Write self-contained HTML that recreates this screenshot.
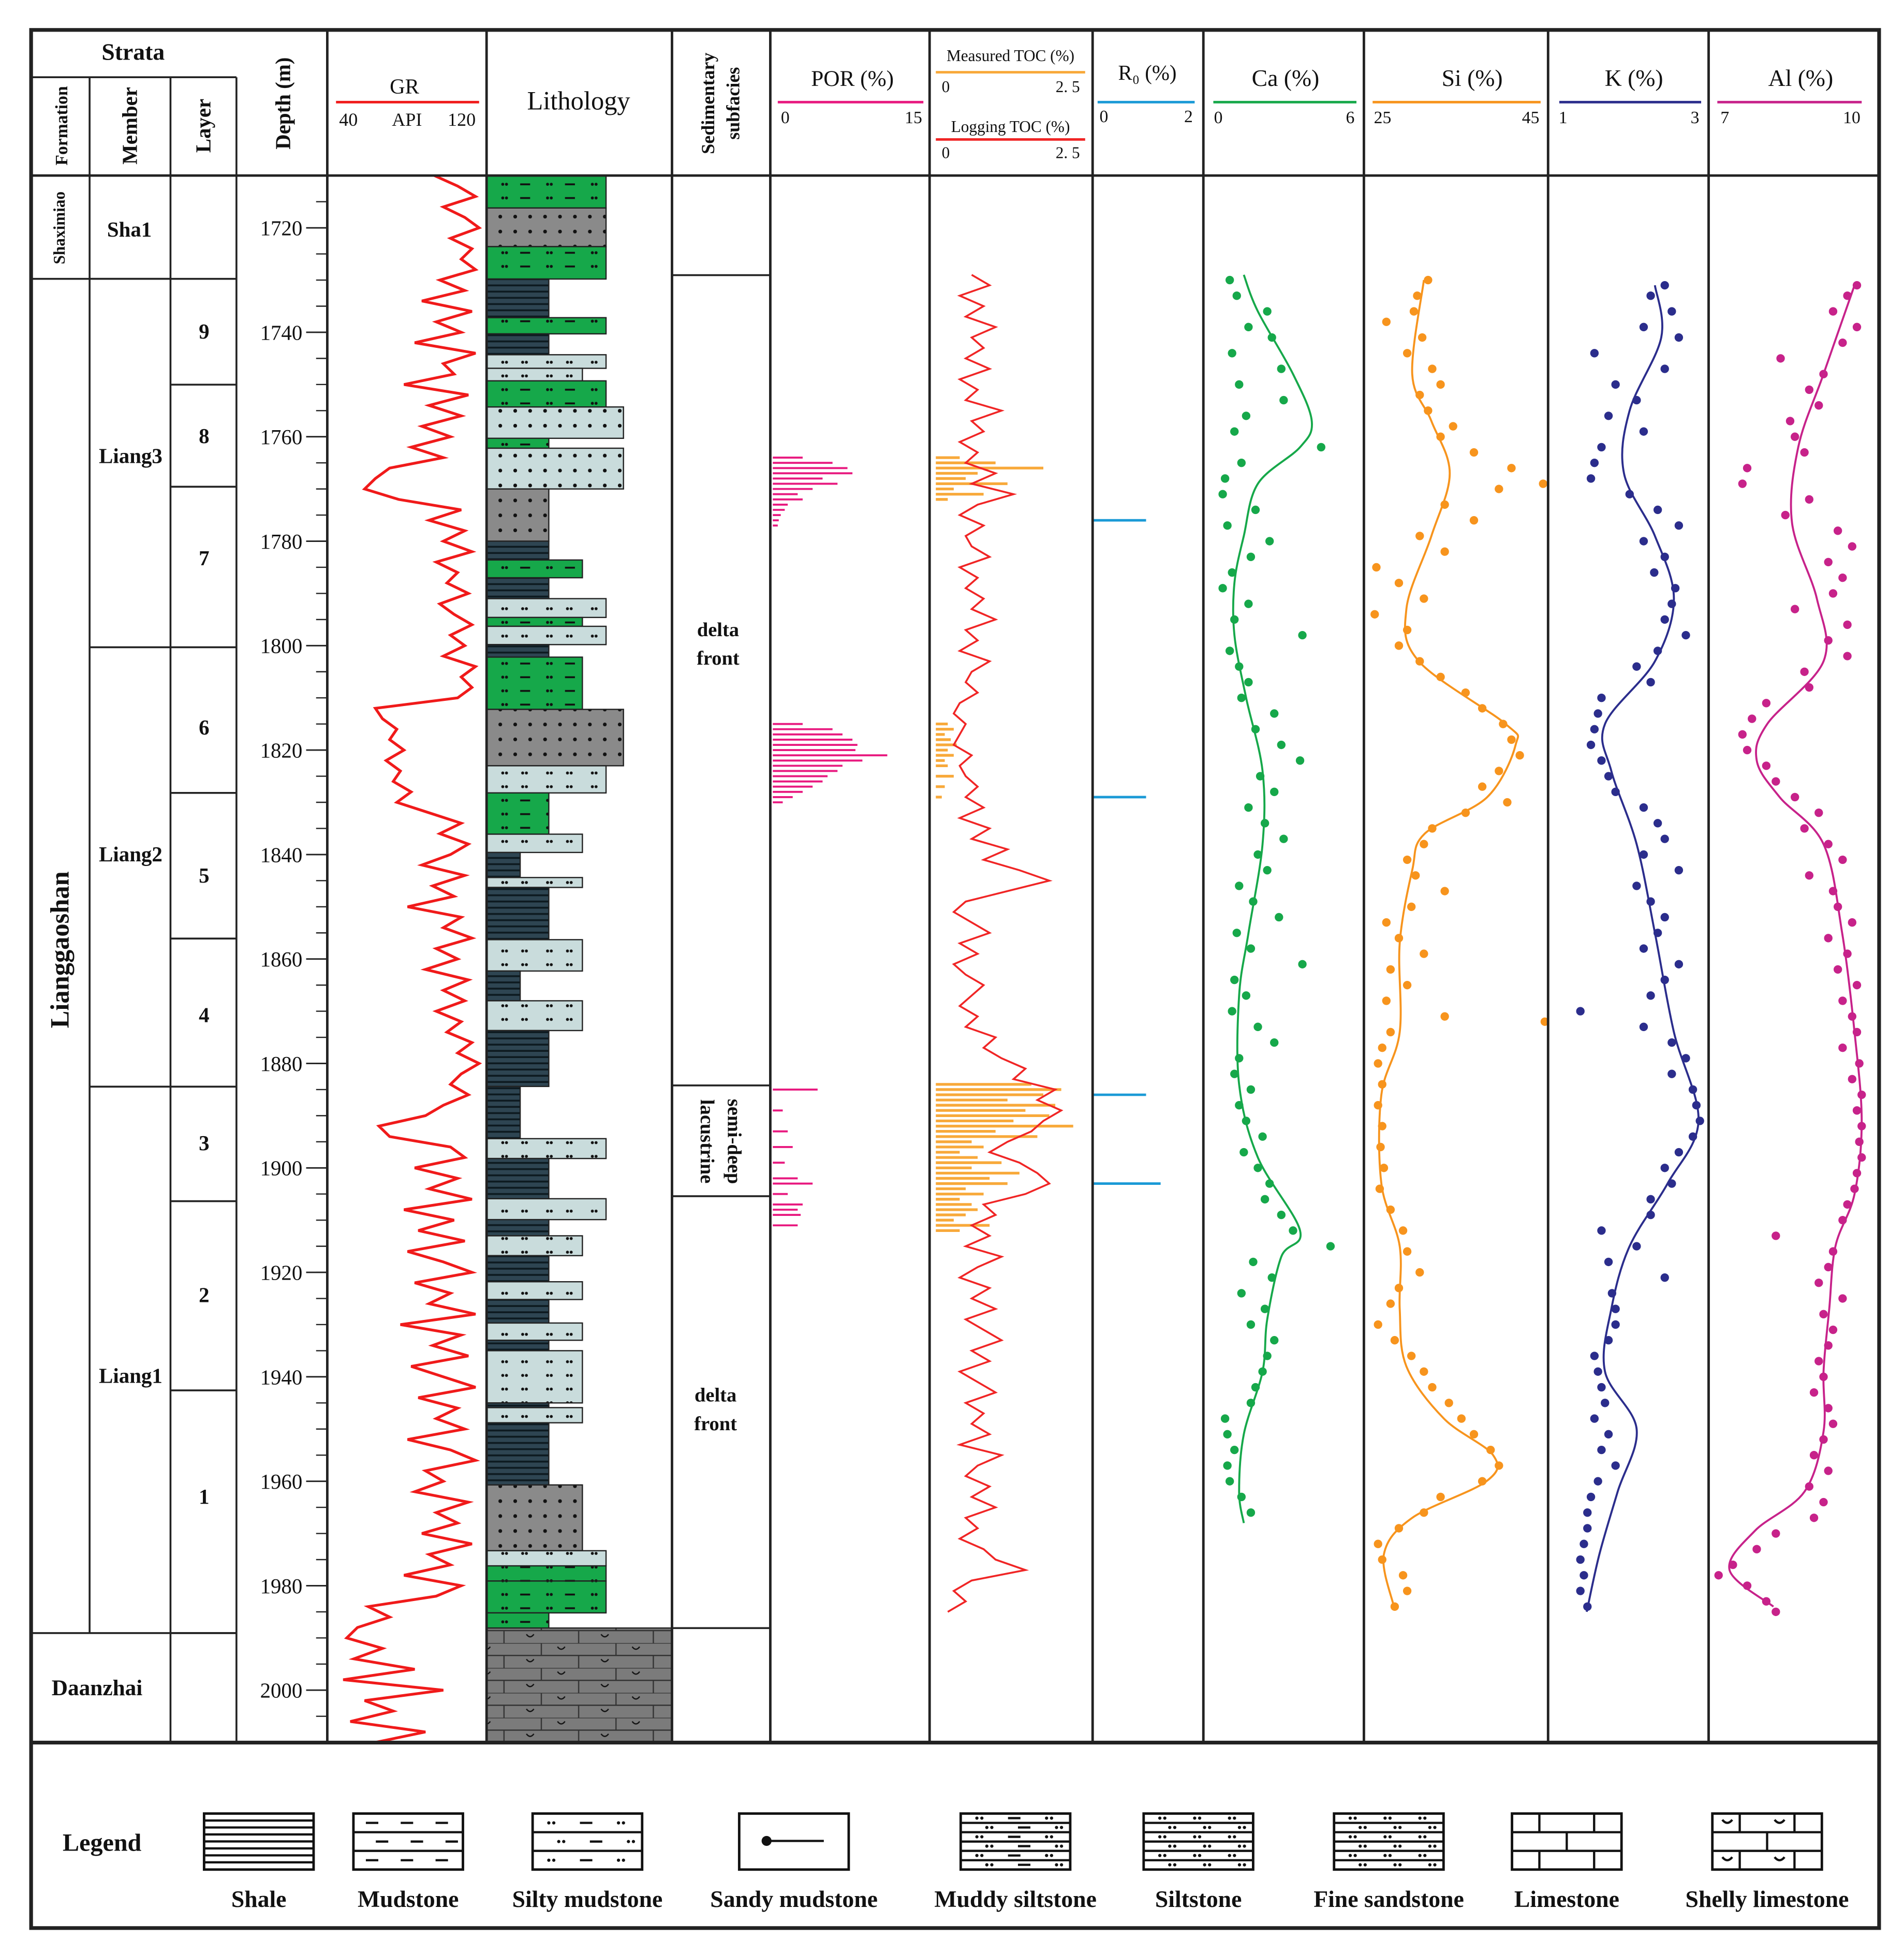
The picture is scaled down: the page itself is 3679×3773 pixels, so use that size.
<!DOCTYPE html>
<html><head><meta charset="utf-8">
<style>
html,body{margin:0;padding:0;background:#fff;}
svg{display:block;}
text{font-family:"Liberation Serif",serif;fill:#111;}
</style></head>
<body>
<svg id="chart" xmlns="http://www.w3.org/2000/svg" width="3679" height="3773" viewBox="0 0 1530 1569">
<defs>
<pattern id="pShale" width="20" height="5" patternUnits="userSpaceOnUse"><rect width="20" height="5" fill="#2e4552"/><rect y="3.5" width="20" height="1.5" fill="#0d1a20"/></pattern>
<pattern id="pDotsG" width="36" height="11" patternUnits="userSpaceOnUse"><rect width="36" height="11" fill="#16a84a"/><circle cx="8" cy="5" r="1.2" fill="#111"/><circle cx="11" cy="5" r="1.2" fill="#111"/><rect x="22" y="4.3" width="8" height="1.5" fill="#111"/></pattern>
<pattern id="pDotsL" width="36" height="11" patternUnits="userSpaceOnUse"><rect width="36" height="11" fill="#c9dcdc"/><circle cx="8" cy="5" r="1.2" fill="#111"/><circle cx="11" cy="5" r="1.2" fill="#111"/><circle cx="24" cy="5" r="1.2" fill="#111"/><circle cx="27" cy="5" r="1.2" fill="#111"/></pattern>
<pattern id="pSand" width="24" height="12" patternUnits="userSpaceOnUse"><rect width="24" height="12" fill="#8a8a8a"/><circle cx="6" cy="6" r="1.5" fill="#111"/><circle cx="18" cy="6" r="1.5" fill="#111"/></pattern>
<pattern id="pSandL" width="24" height="12" patternUnits="userSpaceOnUse"><rect width="24" height="12" fill="#c9dcdc"/><circle cx="6" cy="6" r="1.5" fill="#111"/><circle cx="18" cy="6" r="1.5" fill="#111"/></pattern>
<pattern id="pLime" width="60" height="20" patternUnits="userSpaceOnUse"><rect width="60" height="20" fill="#7b7b7b"/><path d="M0 0H60M0 10H60M15 0V10M45 10V20" stroke="#333" stroke-width="1"/><path d="M28 3q3 4 6 0M3 13q3 4 6 0" stroke="#111" fill="none"/></pattern>
</defs>
<g id="root"></g>
</svg>
<script>
// ---------- data ----------
const grStart = 1710, grStep = 2;
const grValues = [95,108,118,100,112,120,104,116,110,118, 98,112,88,116,96,110,84,118,100,106, 78,114,92,110,88,104,82,100,70,62, 56,75,110,92,112,100,116,96,108,102, 114,98,106,116,104,112,100,118,110,116, 108,62,66,74,70,78,68,76,72,82, 74,92,110,98,114,104,88,112,94,106, 80,110,100,116,96,108,90,114,100,112, 96,110,102,116,108,120,110,104,114,100, 90,64,70,104,112,84,108,92,116,78, 106,86,112,80,100,116,84,104,92,118, 76,110,94,114,82,100,118,86,108,96, 112,80,104,118,90,100,84,114,96,108, 88,116,92,104,78,110,96,58,70,52, 46,66,50,84,44,100,56,72,48,90, 62];
const tocStart = 1729, tocStep = 2;
const tocValues = [0.6,0.9,0.4,0.8,0.5,1.0,0.6,0.8,0.5,0.9, 0.4,0.7,0.5,1.1,0.6,0.8,0.4,0.7,0.5,1.0, 0.6,1.3,0.7,0.4,0.8,0.5,0.6,0.9,0.4,0.7, 0.5,0.8,0.6,1.0,0.5,0.7,0.4,0.9,0.6,0.5, 0.7,0.4,0.3,0.5,0.4,0.3,0.6,0.4,0.5,0.7, 0.5,0.8,0.4,0.9,0.6,1.2,0.8,1.4,1.9,1.2, 0.5,0.3,0.6,0.9,0.4,0.7,0.3,0.5,0.8,0.6, 0.4,0.7,0.5,1.0,0.8,1.1,1.5,1.3,2.0,1.7, 2.1,1.8,1.6,1.2,0.9,1.4,1.7,1.9,1.5,0.8, 1.0,0.6,0.9,0.5,1.1,0.7,0.4,0.9,0.6,1.0, 0.5,0.8,1.1,0.6,0.9,0.4,0.7,1.0,0.5,0.8, 0.6,0.9,0.4,1.1,0.7,0.5,0.9,0.6,1.0,0.5, 0.7,0.4,0.8,1.0,1.5,0.6,0.3,0.5,0.2];
const measuredToc = [[1764,0.4],[1765,1.0],[1766,1.8],[1767,0.7],[1768,0.5],[1769,1.2],[1770,0.3],[1771,0.8],[1772,0.2],[1815,0.2],[1816,0.3],[1817,0.15],[1818,0.25],[1819,0.35],[1820,0.2],[1821,0.3],[1822,0.15],[1823,0.2],[1825,0.3],[1827,0.15],[1829,0.1],[1884,1.6],[1885,2.1],[1886,1.8],[1887,1.2],[1888,2.0],[1889,1.5],[1890,1.9],[1891,1.3],[1892,2.3],[1893,1.0],[1894,1.7],[1895,0.6],[1896,0.8],[1897,0.4],[1898,0.7],[1899,1.1],[1900,0.6],[1901,1.4],[1902,0.9],[1903,1.2],[1904,0.5],[1905,0.8],[1906,0.4],[1907,0.6],[1908,0.7],[1909,0.5],[1910,0.3],[1911,0.9],[1912,0.4]];
const porBars = [[1764,3],[1765,6],[1766,7.5],[1767,8],[1768,5],[1769,6.5],[1770,4],[1771,2.5],[1772,3],[1773,1.5],[1774,1.2],[1775,0.8],[1776,0.6],[1777,0.5],[1815,3],[1816,6],[1817,7],[1818,8],[1819,8.5],[1820,8.3],[1821,11.5],[1822,9],[1823,7],[1824,6.5],[1825,5.5],[1826,5],[1827,4],[1828,3],[1829,2],[1830,1],[1885,4.5],[1889,1],[1893,1.5],[1896,2],[1899,1.2],[1902,2.5],[1903,4],[1905,1.5],[1907,3],[1908,2.5],[1909,2.8],[1911,2.5]];
const roValues = [[1776,1.05],[1829,1.05],[1886,1.05],[1903,1.35]];
const caCurveDepth = [1729,1736,1748,1757,1762,1769,1779,1788,1798,1810,1824,1838,1855,1867,1884,1898,1912,1917,1929,1939,1951,1962,1968];
const caCurveVal = [1.3,1.9,3.4,4.2,3.7,1.9,1.3,0.9,0.9,1.4,2.1,2.1,1.5,1.1,1.1,1.9,3.7,2.9,2.3,2.1,1.3,1.1,1.3];
const caPoints = [[1730,0.7],[1733,1.0],[1736,2.3],[1739,1.5],[1741,2.5],[1744,0.8],[1747,2.9],[1750,1.1],[1753,3.0],[1756,1.4],[1759,0.9],[1762,4.6],[1765,1.2],[1768,0.5],[1771,0.4],[1774,1.8],[1777,0.6],[1780,2.4],[1783,1.6],[1786,0.8],[1789,0.4],[1792,1.5],[1795,0.9],[1798,3.8],[1801,0.7],[1804,1.1],[1807,1.5],[1810,1.2],[1813,2.6],[1816,1.8],[1819,2.9],[1822,3.7],[1825,2.0],[1828,2.6],[1831,1.5],[1834,2.2],[1837,3.0],[1840,1.9],[1843,2.3],[1846,1.1],[1849,1.7],[1852,2.8],[1855,1.0],[1858,1.6],[1861,3.8],[1864,0.9],[1867,1.4],[1870,0.8],[1873,1.9],[1876,2.6],[1879,1.1],[1882,0.9],[1885,1.6],[1888,1.1],[1891,1.4],[1894,2.1],[1897,1.3],[1900,1.9],[1903,2.4],[1906,2.2],[1909,2.9],[1912,3.4],[1915,5.0],[1918,1.7],[1921,2.5],[1924,1.2],[1927,2.2],[1930,1.6],[1933,2.6],[1936,2.3],[1939,2.1],[1942,1.8],[1945,1.6],[1948,0.5],[1951,0.6],[1954,0.9],[1957,0.6],[1960,0.7],[1963,1.2],[1966,1.6]];
const siCurveDepth = [1730,1748,1757,1767,1779,1793,1803,1815,1819,1829,1836,1843,1857,1874,1886,1903,1915,1927,1938,1948,1955,1960,1967,1974,1984];
const siCurveVal = [31,29.6,31.9,34.1,31.9,28.9,30.4,40.8,42,38.6,31.1,29.6,28.1,28.1,25.9,25.9,28.1,28.1,28.9,33.4,39.3,38.5,29.6,26.2,27.4];
const siPoints = [[1730,31.5],[1733,30.2],[1736,29.8],[1738,26.5],[1741,30.8],[1744,29],[1747,32],[1750,33],[1752,30.5],[1755,31.5],[1758,34.5],[1760,33],[1763,37],[1766,41.5],[1769,45.3],[1770,40],[1773,33.5],[1776,37],[1779,30.5],[1782,33.5],[1785,25.3],[1788,28],[1791,31],[1794,25.1],[1797,29],[1800,28],[1803,30.5],[1806,33],[1809,36],[1812,38],[1815,40.5],[1818,41.5],[1821,42.5],[1824,40],[1827,38],[1830,41],[1832,36],[1835,32],[1838,31],[1841,29],[1844,30],[1847,33.5],[1850,29.5],[1853,26.5],[1856,28],[1859,31],[1862,27],[1865,29],[1868,26.5],[1871,33.5],[1872,45.5],[1874,27],[1877,26],[1880,25.5],[1884,26],[1888,25.5],[1892,26],[1896,25.8],[1900,26.2],[1904,25.7],[1908,27],[1912,28.5],[1916,29],[1920,30.5],[1923,28],[1926,27],[1930,25.5],[1933,27.5],[1936,29.5],[1939,31],[1942,32],[1945,34],[1948,35.5],[1951,37],[1954,39],[1957,40],[1960,38],[1963,33],[1966,31],[1969,28],[1972,25.5],[1975,26],[1978,28.5],[1981,29],[1984,27.5]];
const kCurveDepth = [1731,1741,1755,1767,1779,1791,1803,1815,1824,1838,1855,1874,1891,1903,1915,1927,1939,1950,1962,1974,1985];
const kCurveVal = [2.36,2.45,2.0,1.92,2.36,2.63,2.36,1.65,1.74,2.1,2.36,2.63,2.98,2.54,2.0,1.74,1.65,2.1,1.83,1.57,1.39];
const kPoints = [[1731,2.5],[1733,2.3],[1736,2.6],[1739,2.2],[1741,2.7],[1744,1.5],[1747,2.5],[1750,1.8],[1753,2.1],[1756,1.7],[1759,2.2],[1762,1.6],[1765,1.5],[1768,1.45],[1771,2.0],[1774,2.4],[1777,2.7],[1780,2.2],[1783,2.5],[1786,2.35],[1789,2.65],[1792,2.6],[1795,2.5],[1798,2.8],[1801,2.4],[1804,2.1],[1807,2.3],[1810,1.6],[1813,1.55],[1816,1.5],[1819,1.45],[1822,1.6],[1825,1.7],[1828,1.8],[1831,2.2],[1834,2.4],[1837,2.5],[1840,2.2],[1843,2.7],[1846,2.1],[1849,2.3],[1852,2.5],[1855,2.4],[1858,2.2],[1861,2.7],[1864,2.5],[1867,2.3],[1870,1.3],[1873,2.2],[1876,2.6],[1879,2.8],[1882,2.6],[1885,2.9],[1888,2.95],[1891,3.0],[1894,2.9],[1897,2.7],[1900,2.5],[1903,2.6],[1906,2.3],[1909,2.3],[1912,1.6],[1915,2.1],[1918,1.7],[1921,2.5],[1924,1.75],[1927,1.8],[1930,1.8],[1933,1.7],[1936,1.5],[1939,1.55],[1942,1.6],[1945,1.65],[1948,1.5],[1951,1.7],[1954,1.6],[1957,1.8],[1960,1.55],[1963,1.45],[1966,1.4],[1969,1.4],[1972,1.35],[1975,1.3],[1978,1.35],[1981,1.3],[1984,1.4]];
const alCurveDepth = [1731,1748,1762,1776.5,1791,1803,1815,1822,1829,1838,1855,1874,1891,1905,1915,1927,1939,1950.5,1962,1969.5,1977,1984];
const alCurveVal = [9.85,9.2,8.67,8.54,9.06,9.2,8.02,7.8,8.28,9.2,9.59,9.85,10.0,9.85,9.45,9.32,9.2,9.2,8.8,7.76,7.23,8.15];
const alPoints = [[1731,9.9],[1733,9.7],[1736,9.4],[1739,9.9],[1742,9.6],[1745,8.3],[1748,9.2],[1751,8.9],[1754,9.1],[1757,8.5],[1760,8.6],[1763,8.8],[1766,7.6],[1769,7.5],[1772,8.9],[1775,8.4],[1778,9.5],[1781,9.8],[1784,9.3],[1787,9.6],[1790,9.4],[1793,8.6],[1796,9.7],[1799,9.3],[1802,9.7],[1805,8.8],[1808,8.9],[1811,8.0],[1814,7.7],[1817,7.5],[1820,7.6],[1823,8.0],[1826,8.2],[1829,8.6],[1832,9.1],[1835,8.8],[1838,9.3],[1841,9.6],[1844,8.9],[1847,9.4],[1850,9.5],[1853,9.8],[1856,9.3],[1859,9.7],[1862,9.5],[1865,9.9],[1868,9.6],[1871,9.8],[1874,9.9],[1877,9.6],[1880,9.95],[1883,9.8],[1886,10],[1889,9.9],[1892,10],[1895,9.95],[1898,10],[1901,9.9],[1904,9.85],[1907,9.7],[1910,9.6],[1913,8.2],[1916,9.4],[1919,9.3],[1922,9.1],[1925,9.6],[1928,9.2],[1931,9.4],[1934,9.3],[1937,9.1],[1940,9.2],[1943,9.0],[1946,9.3],[1949,9.4],[1952,9.2],[1955,9.0],[1958,9.3],[1961,8.9],[1964,9.2],[1967,9.0],[1970,8.2],[1973,7.8],[1976,7.3],[1978,7.0],[1980,7.6],[1983,8.0],[1985,8.2]];
const bedTops = [1710,1716.2,1723.6,1729.8,1737.2,1740.3,1744.3,1746.9,1749.3,1754.3,1760.3,1762.2,1770,1780,1783.6,1787,1791,1794.6,1796.3,1799.8,1802.2,1812.2,1823,1828.2,1836.1,1839.6,1844.4,1846.3,1856.3,1862.3,1868,1873.7,1884.4,1894.4,1898.2,1905.9,1909.9,1913,1916.8,1921.8,1925.2,1929.7,1933,1935,1945,1945.9,1948.8,1960.7,1973.3,1976.2,1979.1,1985.2,1988.1];
const bedTypes = ['g','s','g','d','g','d','l','l','g','L','g','L','s','d','g','d','l','g','l','d','g','s','l','g','l','d','l','d','l','d','l','d','d','l','d','l','d','l','d','l','d','l','d','l','d','l','d','s','l','g','g','g','lime'];
const bedGrain = ['m','m','m','c','m','c','m','f','m','g','c','g','c','c','f','c','m','f','m','c','f','g','m','c','f','n','f','c','f','n','f','c','n','m','c','m','c','f','c','f','c','f','c','f','c','f','c','f','m','m','m','c','w'];
const depthTicks = [1720,1740,1760,1780,1800,1820,1840,1860,1880,1900,1920,1940,1960,1980,2000];

// ---------- scales ----------
const Y = d => 183 + (d - 1720) * 4.196;
const lin = (d0,d1,r0,r1) => v => r0 + (v-d0)/(d1-d0)*(r1-r0);
const xGR = lin(40,120,270,385), xPOR = lin(0,15,621,741), xTOC = lin(0,2.5,752,872), xRo = lin(0,2,880,958);
const xCa = lin(0,6,975,1088), xSi = lin(25,45,1104,1238), xK = lin(1,3,1253,1366), xAl = lin(7,10,1381,1496);
const grainX = {n:418,c:441,f:468,m:487,g:501,w:540};
const NS='http://www.w3.org/2000/svg';
const root=document.getElementById('root');
function el(tag,attrs,parent){const e=document.createElementNS(NS,tag);for(const k in attrs)e.setAttribute(k,attrs[k]);(parent||root).appendChild(e);return e;}
function txt(x,y,s,size,opts){const t=el('text',Object.assign({x:x,y:y,'font-size':size,'text-anchor':'middle'},opts||{}));t.textContent=s;return t;}
function line(x1,y1,x2,y2,stroke,w){return el('line',{x1,y1,x2,y2,stroke:stroke||'#222','stroke-width':w||1.5});}
function spline(pts){let d='M'+pts[0][0]+' '+pts[0][1];for(let i=0;i<pts.length-1;i++){const p0=pts[i-1]||pts[i],p1=pts[i],p2=pts[i+1],p3=pts[i+2]||p2;d+=' C'+(p1[0]+(p2[0]-p0[0])/6)+' '+(p1[1]+(p2[1]-p0[1])/6)+' '+(p2[0]-(p3[0]-p1[0])/6)+' '+(p2[1]-(p3[1]-p1[1])/6)+' '+p2[0]+' '+p2[1];}return d;}

// ---------- lithology ----------
const gL=el('g',{});


const fills={g:'url(#pDotsG)',s:'url(#pSand)',d:'url(#pShale)',l:'url(#pDotsL)',L:'url(#pSandL)',lime:'url(#pLime)'};
bedTops.forEach((t,i)=>{const b=i<bedTops.length-1?bedTops[i+1]:2010;const r=el('rect',{x:391,y:Y(t),width:grainX[bedGrain[i]]-391,height:Y(b)-Y(t),fill:fills[bedTypes[i]],stroke:'#222','stroke-width':1},gL);

});

// ---------- GR ----------
const grPts=grValues.map((v,i)=>[xGR(v),Y(grStart+i*grStep)]);
const grP=el('path',{d:'M'+grPts.map(p=>p.join(' ')).join(' L'),fill:'none',stroke:'#f01a1a','stroke-width':2.2});



// ---------- POR ----------
porBars.forEach(p=>{const l=line(xPOR(0),Y(p[0]),xPOR(p[1]),Y(p[0]),'#e8197f',1.6);

});
// ---------- TOC ----------
measuredToc.forEach(p=>{const l=line(xTOC(0),Y(p[0]),xTOC(p[1]),Y(p[0]),'#f8a93a',2.2);

});
const tocP=el('path',{d:'M'+tocValues.map((v,i)=>xTOC(v)+' '+Y(tocStart+i*tocStep)).join(' L'),fill:'none',stroke:'#f02525','stroke-width':1.5});


// ---------- Ro ----------
roValues.forEach(p=>{const l=line(878,Y(p[0]),xRo(p[1]),Y(p[0]),'#1a9ad6',2);

});
// ---------- element logs ----------
function elementLog(name,pts,cd,cv,xs,color){
 pts.forEach(p=>{const c=el('circle',{cx:xs(p[1]),cy:Y(p[0]),r:3.4,fill:color});
 
 });
 const pa=el('path',{d:spline(cd.map((d,i)=>[xs(cv[i]),Y(d)])),fill:'none',stroke:color,'stroke-width':1.6});
 
 
}
elementLog('ca',caPoints,caCurveDepth,caCurveVal,xCa,'#16a84a');
elementLog('si',siPoints,siCurveDepth,siCurveVal,xSi,'#f7941d');
elementLog('k',kPoints,kCurveDepth,kCurveVal,xK,'#2b2d8c');
elementLog('al',alPoints,alCurveDepth,alCurveVal,xAl,'#c7228a');

// ---------- grid/frame ----------
const cols=[72,137,190,263,391,540,619,747,878,967,1096,1244,1373];
cols.forEach((x,i)=>{const y0=(i<3)?62:24;const y1=(i===0)?1312:1400;line(x,y0,x,y1,'#222',i>2?2:1.5);});
line(25,62,190,62,'#222',1.5);
line(25,141,1510,141,'#222',2);
el('rect',{x:25,y:24,width:1485,height:1525,fill:'none',stroke:'#222','stroke-width':3});
line(25,1400,1510,1400,'#222',3);
// strata divisions
line(25,224,137,224);line(25,1312,190,1312);
[224,520,873].forEach(y=>line(72,y,137,y));
[224,309,391,520,637,754,873,965,1117,1312].forEach(y=>line(137,y,190,y));
[221,872,961,1308].forEach(y=>line(540,y,619,y));
for(let d=1710;d<=2010;d+=5){line(254,Y(d),263,Y(d),'#222',1);}
depthTicks.forEach(d=>{line(246,Y(d),263,Y(d),'#222',1.2);const t=txt(226,Y(d)+6,String(d),17);

});

// ---------- header ----------
const B={'font-weight':'bold'};
txt(107,48,'Strata',19,B);
txt(0,0,'Formation',14,Object.assign({transform:'translate(54,101) rotate(-90)'},B));
txt(0,0,'Member',17,Object.assign({transform:'translate(110,101) rotate(-90)'},B));
txt(0,0,'Layer',17,Object.assign({transform:'translate(169,101) rotate(-90)'},B));
txt(0,0,'Depth (m)',17,Object.assign({transform:'translate(233,83) rotate(-90)'},B));
txt(325,75,'GR',17);line(270,82,385,82,'#f01a1a',2);
txt(280,101,'40',15);txt(327,101,'API',15);txt(371,101,'120',15);
txt(465,88,'Lithology',21);
txt(0,0,'Sedimentary',15,Object.assign({transform:'translate(574,83) rotate(-90)'},B));
txt(0,0,'subfacies',15,Object.assign({transform:'translate(594,83) rotate(-90)'},B));
txt(685,69,'POR (%)',18);line(625,82,742,82,'#e8197f',2);txt(631,99,'0',14);txt(734,99,'15',14);
txt(812,49,'Measured TOC (%)',13);line(752,58,872,58,'#f8a93a',2);txt(760,74,'0',13);txt(858,74,'2. 5',13);
txt(812,106,'Logging TOC (%)',13);line(752,112,872,112,'#f02525',2);txt(760,127,'0',13);txt(858,127,'2. 5',13);
txt(922,64,'R\u2080 (%)',17);line(882,82,960,82,'#1a9ad6',2);txt(887,98,'0',14);txt(955,98,'2',14);
txt(1033,69,'Ca (%)',19);line(975,82,1090,82,'#16a84a',2);txt(979,99,'0',14);txt(1085,99,'6',14);
txt(1183,69,'Si (%)',19);line(1103,82,1238,82,'#f7941d',2);txt(1111,99,'25',14);txt(1230,99,'45',14);
txt(1313,69,'K (%)',19);line(1253,82,1367,82,'#2b2d8c',2);txt(1256,99,'1',14);txt(1362,99,'3',14);
txt(1447,69,'Al (%)',19);line(1380,82,1496,82,'#c7228a',2);txt(1386,99,'7',14);txt(1488,99,'10',14);

// strata labels
txt(0,0,'Shaximiao',13,Object.assign({transform:'translate(52,183) rotate(-90)'},B));
txt(0,0,'Lianggaoshan',21,Object.assign({transform:'translate(55,763) rotate(-90)'},B));
txt(78,1362,'Daanzhai',18,B);
txt(104,190,'Sha1',17,B);txt(105,372,'Liang3',17,B);txt(105,692,'Liang2',17,B);txt(105,1111,'Liang1',17,B);
[[266,'9'],[350,'8'],[448,'7'],[584,'6'],[703,'5'],[815,'4'],[918,'3'],[1040,'2'],[1202,'1']].forEach(a=>txt(164,a[0]+6,a[1],17,B));
txt(577,511,'delta',16,B);txt(577,534,'front',16,B);
txt(0,0,'semi-deep',16,Object.assign({transform:'translate(585,917) rotate(90)'},B));
txt(0,0,'lacustrine',16,Object.assign({transform:'translate(563,917) rotate(90)'},B));
txt(575,1126,'delta',16,B);txt(575,1149,'front',16,B);

// ---------- legend ----------
txt(82,1487,'Legend',20,B);
const lg=[[164,'Shale'],[284,'Mudstone'],[428,'Silty mudstone'],[594,'Sandy mudstone'],[772,'Muddy siltstone'],[919,'Siltstone'],[1072,'Fine sandstone'],[1215,'Limestone'],[1376,'Shelly limestone']];
lg.forEach((a,i)=>{const g=el('g',{});


const x=a[0],y=1457,w=88,h=45;el('rect',{x,y,width:w,height:h,fill:'#fff',stroke:'#111','stroke-width':2},g);
let d='';
if(i===0){for(let k=1;k<8;k++)d+='M'+x+' '+(y+k*5.6)+'H'+(x+w);}
else if(i===3){el('circle',{cx:x+22,cy:y+22,r:4,fill:'#111'},g);d='M'+(x+22)+' '+(y+22)+'H'+(x+68);}
else if(i===7||i===8){d='M'+x+' '+(y+15)+'H'+(x+w)+'M'+x+' '+(y+30)+'H'+(x+w)+'M'+(x+22)+' '+y+'V'+(y+15)+'M'+(x+66)+' '+y+'V'+(y+15)+'M'+(x+44)+' '+(y+15)+'V'+(y+30)+'M'+(x+22)+' '+(y+30)+'V'+(y+45)+'M'+(x+66)+' '+(y+30)+'V'+(y+45);
 if(i===8)d+='M'+(x+8)+' '+(y+5)+'q4 5 8 0M'+(x+50)+' '+(y+5)+'q4 5 8 0M'+(x+8)+' '+(y+35)+'q4 5 8 0M'+(x+50)+' '+(y+35)+'q4 5 8 0';}
else{d='M'+x+' '+(y+15)+'H'+(x+w)+'M'+x+' '+(y+30)+'H'+(x+w);
 if(i>=4)d+='M'+x+' '+(y+7.5)+'H'+(x+w)+'M'+x+' '+(y+22.5)+'H'+(x+w)+'M'+x+' '+(y+37.5)+'H'+(x+w);
 for(let r=0;r<(i>=4?6:3);r++){const yy=y+(i>=4?3.7+r*7.5:7.5+r*15);for(let c=0;c<3;c++){const xx=x+15+c*28+(r%2)*8;
  if(i===1||((i===2||i===4)&&c===1))d+='M'+(xx-5)+' '+yy+'h10';else{el('circle',{cx:xx-2,cy:yy,r:1.3,fill:'#111'},g);el('circle',{cx:xx+2,cy:yy,r:1.3,fill:'#111'},g);}}}}
el('path',{d,stroke:'#111','stroke-width':1.8,fill:'none'},g);
txt(x+w/2,1532,a[1],19,B);});
</script>
</body></html>
